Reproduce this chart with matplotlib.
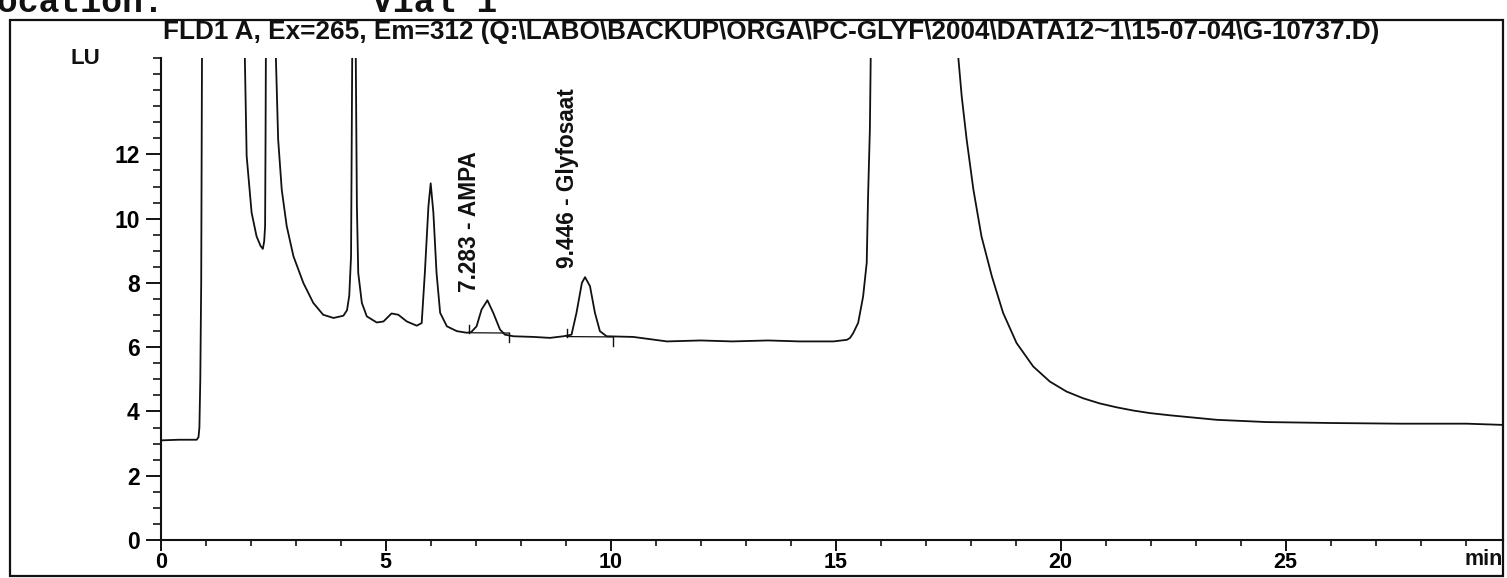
import matplotlib
matplotlib.use('Agg')
import matplotlib.pyplot as plt
from matplotlib import font_manager
from matplotlib.patches import Rectangle
from matplotlib.ticker import MultipleLocator

# ---------------- data ----------------
time_min = [0.00, 0.40, 0.80, 0.84, 0.86, 0.88, 0.90, 0.92,
            1.85, 1.87, 1.91, 2.02, 2.13, 2.22, 2.27, 2.30, 2.32, 2.33, 2.34,
            2.54, 2.56, 2.61, 2.69, 2.80, 2.95, 3.17, 3.39, 3.61, 3.84, 4.06,
            4.14, 4.19, 4.23, 4.26, 4.33, 4.36, 4.39, 4.47, 4.58, 4.80, 4.95,
            5.13, 5.28, 5.47, 5.69, 5.80, 5.87, 5.95, 6.00, 6.06, 6.13, 6.21,
            6.36, 6.58, 6.80, 6.90, 7.02, 7.13, 7.26, 7.39, 7.54, 7.65, 7.84,
            8.28, 8.65, 8.95, 9.13, 9.24, 9.36, 9.43, 9.54, 9.65, 9.76, 9.91,
            10.50, 11.25, 12.00, 12.70, 13.50, 14.20, 14.95, 15.25, 15.32,
            15.39, 15.50, 15.61, 15.69, 15.72, 15.76, 15.78, 15.79,
            17.70, 17.72, 17.80, 17.91, 18.06, 18.24, 18.47, 18.72, 19.02,
            19.39, 19.76, 20.13, 20.50, 20.87, 21.24, 21.61, 21.98, 22.43,
            23.47, 24.58, 26.06, 27.54, 29.02, 29.87]
signal_lu = [3.10, 3.12, 3.12, 3.20, 3.50, 5.00, 8.00, 16.0,
             16.0, 15.0, 11.95, 10.19, 9.45, 9.15, 9.06, 9.30, 9.77, 12.47, 16.0,
             16.0, 15.0, 12.47, 10.90, 9.77, 8.83, 8.00, 7.38, 7.01, 6.91, 6.98,
             7.15, 7.60, 8.83, 16.0, 16.0, 10.39, 8.31, 7.38, 6.96, 6.77, 6.80,
             7.05, 7.01, 6.80, 6.67, 6.75, 8.31, 10.39, 11.10, 10.18, 8.31, 7.07,
             6.65, 6.50, 6.45, 6.47, 6.65, 7.17, 7.46, 7.07, 6.55, 6.39, 6.34,
             6.32, 6.29, 6.34, 6.39, 7.07, 8.00, 8.18, 7.90, 7.07, 6.50, 6.34,
             6.32, 6.18, 6.21, 6.18, 6.21, 6.18, 6.18, 6.23, 6.29,
             6.44, 6.76, 7.58, 8.63, 10.70, 12.78, 15.17, 16.0,
             16.0, 15.10, 13.82, 12.47, 10.91, 9.45, 8.21, 7.07, 6.13,
             5.40, 4.93, 4.62, 4.41, 4.25, 4.13, 4.03, 3.95, 3.88,
             3.74, 3.67, 3.64, 3.62, 3.62, 3.58]

peak_labels = ["7.283 - AMPA", "9.446 - Glyfosaat"]
label_x = [6.87, 9.03]
label_bottom_y = [7.73, 8.48]

# integration baselines drawn under the named peaks
int_start_t = [6.85, 9.02]
int_end_t = [7.75, 10.06]
int_start_y = [6.45, 6.33]
int_end_y = [6.44, 6.32]

xticks = [0, 5, 10, 15, 20, 25]
xtick_labels = ["0", "5", "10", "15", "20", "25"]
yticks = [0, 2, 4, 6, 8, 10, 12]
ytick_labels = ["0", "2", "4", "6", "8", "10", "12"]

title_text = r"FLD1 A, Ex=265, Em=312 (Q:\LABO\BACKUP\ORGA\PC-GLYF\2004\DATA12~1\15-07-04\G-10737.D)"

# ---------------- fonts ----------------
names = {f.name for f in font_manager.fontManager.ttflist}
sans = 'Liberation Sans' if 'Liberation Sans' in names else 'DejaVu Sans'
narrow = 'Liberation Sans Narrow' if 'Liberation Sans Narrow' in names else sans
mono = 'Liberation Mono' if 'Liberation Mono' in names else 'DejaVu Sans Mono'

W, H = 1507, 578
fig = plt.figure(figsize=(W / 100, H / 100), dpi=100)

def fx(px):
    return px / W

def fy(py):
    return 1 - py / H

ax = fig.add_axes([fx(160.7), fy(540), fx(1503) - fx(160.7), fy(58) - fy(540)])
ax.set_xlim(0, 29.83)
ax.set_ylim(0, 15.0)

ax.plot(time_min, signal_lu, color='#111111', lw=1.3, solid_joinstyle='round')

# integration marks
for ts, te, ys, ye in zip(int_start_t, int_end_t, int_start_y, int_end_y):
    ax.plot([ts, te], [ys, ye], color='#111111', lw=0.9)
    ax.plot([ts, ts], [ys, ys + 0.25], color='#111111', lw=1.0)
    ax.plot([te, te], [ye, ye - 0.27], color='#111111', lw=1.0)

for lab, lx, ly in zip(peak_labels, label_x, label_bottom_y):
    ax.text(lx, ly, lab, rotation=90, ha='center', va='bottom',
            fontsize=16.3, fontweight='bold', family=narrow, color='#111111')

for s in ['top', 'right']:
    ax.spines[s].set_visible(False)
for s in ['left', 'bottom']:
    ax.spines[s].set_linewidth(1.5)
    ax.spines[s].set_color('#111111')

ax.set_xticks(xticks)
ax.set_xticklabels(xtick_labels)
ax.set_yticks(yticks)
ax.set_yticklabels(ytick_labels)
ax.xaxis.set_minor_locator(MultipleLocator(1))
ax.yaxis.set_minor_locator(MultipleLocator(0.5))
ax.tick_params(axis='x', which='major', direction='out', length=8, width=1.3, pad=1)
ax.tick_params(axis='x', which='minor', direction='out', length=4, width=1.1)
ax.tick_params(axis='y', which='major', direction='out', length=11, width=1.3, pad=4)
ax.tick_params(axis='y', which='minor', direction='out', length=6, width=1.1)
for lbl in ax.get_yticklabels():
    lbl.set_fontfamily(sans)
    lbl.set_fontweight('bold')
    lbl.set_fontsize(16.5)
for lbl in ax.get_xticklabels():
    lbl.set_fontfamily(sans)
    lbl.set_fontweight('bold')
    lbl.set_fontsize(15.5)

ax.text(1.0, -0.018, 'min', transform=ax.transAxes, ha='right', va='top',
        fontsize=15.5, fontweight='bold', family=sans, color='#111111')
fig.text(fx(85), fy(58), 'LU', ha='center', va='center', fontsize=16,
         fontweight='bold', family=sans, color='#111111')

# frame round the plot
fig.patches.append(Rectangle((fx(10), fy(576)), fx(1503) - fx(10), fy(20) - fy(576),
                             transform=fig.transFigure, fill=False, lw=1.6,
                             edgecolor='#111111'))

title = fig.text(fx(771), fy(32), title_text, ha='center', va='center',
                 fontsize=15, fontweight='bold', family=narrow, color='#111111')

fig.text(fx(-24), fy(12), 'Location:', ha='left', va='baseline', fontsize=25,
         fontweight='bold', family=mono, color='#111111')
fig.text(fx(372), fy(12), 'Vial 1', ha='left', va='baseline', fontsize=25,
         fontweight='bold', family=mono, color='#111111')

# fit title width to the reference
fig.canvas.draw()
r = fig.canvas.get_renderer()
bb = title.get_window_extent(r)
title.set_fontsize(title.get_fontsize() * 1217 / bb.width)

fig.savefig('out.png', dpi=100)
